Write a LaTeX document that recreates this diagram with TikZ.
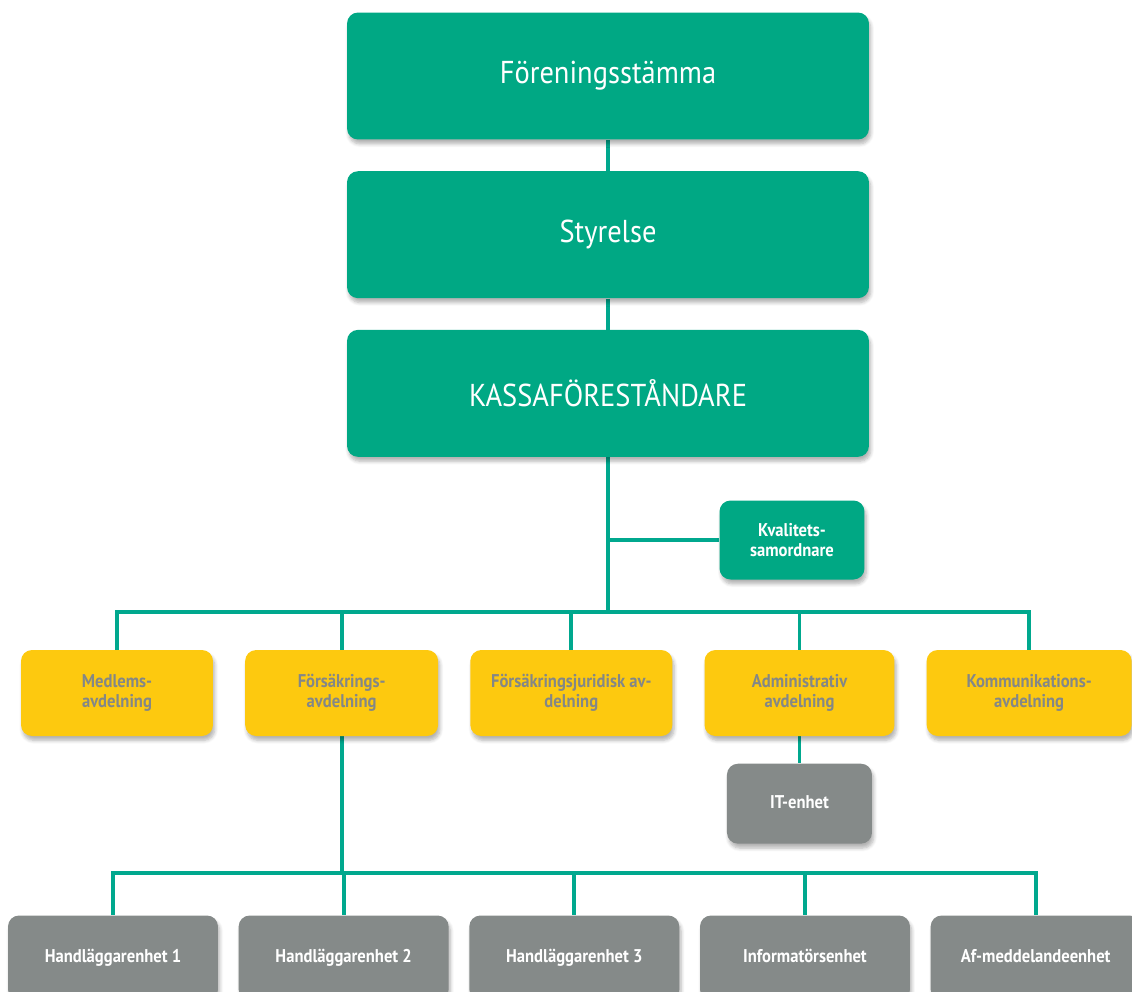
\documentclass[tikz,border=0pt]{standalone}
\usepackage{fontspec}
\setmainfont{PT Sans}[FakeStretch=0.9]
\usetikzlibrary{positioning,shadows,shadows.blur,backgrounds}
\definecolor{kgreen}{HTML}{00A884}
\definecolor{kyellow}{HTML}{FDC90F}
\definecolor{kgray}{HTML}{858A89}
\definecolor{ktext}{HTML}{838787}
\definecolor{kline}{HTML}{00A88E}

\begin{document}
\begin{tikzpicture}[
    x=0.02cm, y=-0.02cm,
    font=\fontsize{10.5}{11.5}\selectfont\bfseries,
    box/.style={rectangle, rounded corners=0.22cm, align=center, inner sep=2pt,
        blur shadow={shadow blur steps=6, shadow xshift=1pt, shadow yshift=-2.5pt, shadow opacity=30}},
    board/.style={box, fill=kgreen, text=white, minimum width=10.44cm, minimum height=2.54cm,
        font=\fontsize{18}{21}\selectfont\mdseries},
    staff/.style={box, fill=kgreen, text=white, minimum width=2.9cm, minimum height=1.58cm},
    dept/.style={box, fill=kyellow, text=ktext, minimum height=1.72cm},
    unit/.style={box, fill=kgray, text=white, minimum width=4.2cm, minimum height=1.7cm,
        text height=0.75em, text depth=0.22em},
    link/.style={kline, line width=2.2pt}
]
    \useasboundingbox (0,0) rectangle (1132,991);

    % Ledning
    \node[board] (stamma) at (608,76) {Föreningsstämma};
    \node[board, below=0.62cm of stamma] (styrelse) {Styrelse};
    \node[board, below=0.62cm of styrelse] (kassa) {KASSAFÖRESTÅNDARE};
    \node[staff] (kval) at (792,540) {Kvalitets-\\samordnare};

    % Avdelningar
    \node[dept, minimum width=3.84cm] (medl) at (117,693) {Medlems-\\avdelning};
    \node[dept, minimum width=3.86cm, right=0.63cm of medl] (fors) {Försäkrings-\\avdelning};
    \node[dept, minimum width=4.04cm, right=0.63cm of fors] (jur) {Försäkringsjuridisk av-\\delning};
    \node[dept, minimum width=3.8cm, right=0.63cm of jur] (adm) {Administrativ\\avdelning};
    \node[dept, minimum width=4.1cm, right=0.63cm of adm] (komm) {Kommunikations-\\avdelning};
    \node[unit, minimum width=2.9cm, minimum height=1.6cm, below=0.54cm of adm] (it) {IT-enhet};

    % Enheter
    \node[unit] (h1) at (113,958) {Handläggarenhet 1};
    \node[unit, right=0.4cm of h1] (h2) {Handläggarenhet 2};
    \node[unit, right=0.4cm of h2] (h3) {Handläggarenhet 3};
    \node[unit, right=0.4cm of h3] (info) {Informatörsenhet};
    \node[unit, right=0.4cm of info] (af) {Af-meddelandeenhet};

    \path (kassa.south) ++(0,155) coordinate (bus1);
    \path (fors.south) ++(0,137) coordinate (bus2);

    \begin{scope}[on background layer]
        \draw[link] (stamma) -- (styrelse);
        \draw[link] (styrelse) -- (kassa);
        \draw[link] (kassa) -- (bus1);
        \draw[link] (kval.west) -- (kval.west -| bus1);
        \foreach \n in {medl,fors,jur,adm,komm}
            \draw[link] (bus1) -| (\n.north);
        \draw[link] (adm) -- (it);
        \draw[link] (fors) -- (bus2);
        \foreach \n in {h1,h2,h3,info,af}
            \draw[link] (bus2) -| (\n.north);
    \end{scope}
\end{tikzpicture}
\end{document}
